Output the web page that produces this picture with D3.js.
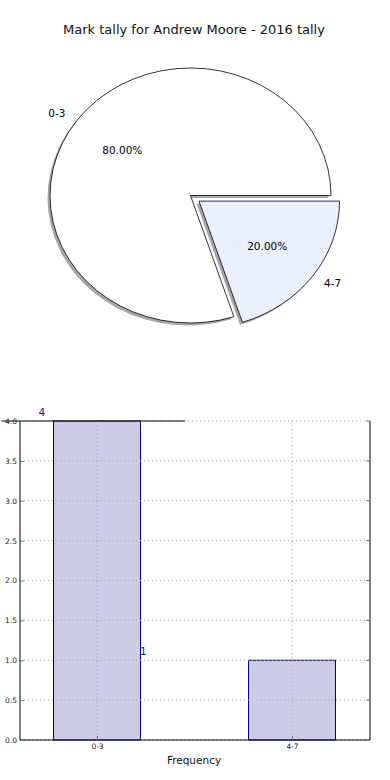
<!DOCTYPE html>
<html>
<head>
<meta charset="utf-8">
<script src="https://cdn.jsdelivr.net/npm/d3@7"></script>
<style>
  body { margin: 0; background: #fff; }
  svg text { font-family: "DejaVu Sans", sans-serif; }
</style>
</head>
<body>
<div id="chart"></div>
<script>
// data
const categories = ['0-3', '4-7'];
const counts = [4, 1];
const sliceColors = ['#ffffff', '#eaf0fb'];
const explode = [0, 0.075];
const yTicks = [0, 0.5, 1, 1.5, 2, 2.5, 3, 3.5, 4];

const title = 'Mark tally for Andrew Moore - 2016 tally';
const xLabel = 'Frequency';

const svg = d3.select('#chart')
    .append('svg')
    .attr('width', 390)
    .attr('height', 780);

svg.append('text')
    .attr('x', 194)
    .attr('y', 34)
    .attr('text-anchor', 'middle')
    .style('font-size', '13px')
    .style('fill', '#111')
    .text(title);

// ---- pie (ellipse, because the axes aren't square)
const cx = 190.5, cy = 195.5, rx = 140.5, ry = 127.5;
const total = d3.sum(counts);

const pie = d3.pie()
    .sort(null)
    .startAngle(Math.PI / 2)
    .endAngle(Math.PI / 2 - 2 * Math.PI);

const arcs = pie(counts);
const arc = d3.arc().innerRadius(0).outerRadius(1);

const pieG = svg.append('g')
    .attr('transform', `translate(${cx}, ${cy})`);

function offset(d, i) {
    const a = (d.startAngle + d.endAngle) / 2;
    return [Math.sin(a) * explode[i], -Math.cos(a) * explode[i]];
}

// shadows first
arcs.forEach((d, i) => {
    const [ox, oy] = offset(d, i);
    pieG.append('path')
        .attr('d', arc(d))
        .attr('transform', `translate(${ox * rx - 2.5}, ${oy * ry + 2.5}) scale(${rx}, ${ry})`)
        .style('fill', '#4d4d4d')
        .style('fill-opacity', 0.5)
        .style('stroke', 'none');
});

arcs.forEach((d, i) => {
    const [ox, oy] = offset(d, i);
    pieG.append('path')
        .attr('d', arc(d))
        .attr('transform', `translate(${ox * rx}, ${oy * ry}) scale(${rx}, ${ry})`)
        .attr('vector-effect', 'non-scaling-stroke')
        .style('fill', sliceColors[i])
        .style('stroke', '#000')
        .style('stroke-width', '0.8px');
});

// labels + percentages
arcs.forEach((d, i) => {
    const a = (d.startAngle + d.endAngle) / 2;
    const [ox, oy] = offset(d, i);
    const ux = Math.sin(a), uy = -Math.cos(a);
    pieG.append('text')
        .attr('x', (ux * 1.1 + ox) * rx)
        .attr('y', (uy * 1.1 + oy) * ry)
        .attr('dy', '0.35em')
        .attr('text-anchor', ux < 0 ? 'end' : 'start')
        .style('font-size', '10.5px')
        .text(categories[i]);
    pieG.append('text')
        .attr('x', (ux * 0.6 + ox) * rx)
        .attr('y', (uy * 0.6 + oy) * ry)
        .attr('dy', '0.35em')
        .attr('text-anchor', 'middle')
        .style('font-size', '10.5px')
        .text((counts[i] / total * 100).toFixed(2) + '%');
});

// ---- bar chart
const pLeft = 20, pRight = 370, pTop = 421, pBottom = 740;

const xScale = d3.scaleLinear()
    .domain([-0.395, 1.4])
    .range([pLeft, pRight]);

const yScale = d3.scaleLinear()
    .domain([0, 4])
    .range([pBottom, pTop]);

const barW = 0.446;
const g = svg.append('g');

// bars
g.selectAll('.bar')
    .data(counts)
    .enter().append('rect')
    .attr('x', (d, i) => xScale(i - barW / 2))
    .attr('y', d => yScale(d))
    .attr('width', xScale(barW) - xScale(0))
    .attr('height', d => yScale(0) - yScale(d))
    .style('fill', 'rgb(204,204,230)')
    .style('stroke', '#00008b')
    .style('stroke-width', '1px');

// dotted grid, drawn on top of the bars
g.selectAll('.xgrid')
    .data(categories)
    .enter().append('line')
    .attr('x1', (d, i) => xScale(i)).attr('x2', (d, i) => xScale(i))
    .attr('y1', pTop).attr('y2', pBottom)
    .style('stroke', '#a8a8b0')
    .style('stroke-width', '1px')
    .style('stroke-dasharray', '1,3');
g.selectAll('.ygrid')
    .data(yTicks)
    .enter().append('line')
    .attr('x1', pLeft).attr('x2', pRight)
    .attr('y1', d => yScale(d)).attr('y2', d => yScale(d))
    .style('stroke', '#a8a8b0')
    .style('stroke-width', '1px')
    .style('stroke-dasharray', '1,3');

// spines: left, bottom, right and the stray top segment
g.append('line').attr('x1', pLeft).attr('x2', pLeft).attr('y1', pTop).attr('y2', pBottom)
    .style('stroke', '#000');
g.append('line').attr('x1', pLeft).attr('x2', pRight).attr('y1', pBottom).attr('y2', pBottom)
    .style('stroke', '#000');
g.append('line').attr('x1', pRight).attr('x2', pRight).attr('y1', pTop).attr('y2', pBottom)
    .style('stroke', '#000');
g.append('line')
    .attr('x1', xScale(-0.49)).attr('x2', xScale(0.45))
    .attr('y1', yScale(4)).attr('y2', yScale(4))
    .style('stroke', '#000');

// axes
const yAxis = d3.axisLeft(yScale)
    .tickValues(yTicks)
    .tickFormat(d3.format('.1f'))
    .tickSize(-4)
    .tickPadding(3);

g.append('g')
    .attr('transform', `translate(${pLeft}, 0)`)
    .call(yAxis);

const xAxis = d3.axisBottom(xScale)
    .tickValues([0, 1])
    .tickFormat((d, i) => categories[i])
    .tickSize(-4)
    .tickPadding(4);

g.append('g')
    .attr('transform', `translate(0, ${pBottom})`)
    .call(xAxis);

g.selectAll('.domain').style('display', 'none');
g.selectAll('.tick line').style('stroke', '#777');
g.selectAll('.tick text')
    .style('font-size', '7.5px')
    .style('font-family', '"DejaVu Sans", sans-serif')
    .style('fill', '#222');

// right-side ticks
g.selectAll('.rtick')
    .data(yTicks)
    .enter().append('line')
    .attr('x1', pRight - 4).attr('x2', pRight)
    .attr('y1', d => yScale(d)).attr('y2', d => yScale(d))
    .style('stroke', '#777');

// value annotations
g.selectAll('.val')
    .data(counts)
    .enter().append('text')
    .attr('x', (d, i) => xScale(i * 0.52 - 0.3))
    .attr('y', d => yScale(d + 0.06))
    .style('font-size', '10.5px')
    .style('fill', '#1a1a8c')
    .text(d => d);

svg.append('text')
    .attr('x', 194)
    .attr('y', 764)
    .attr('text-anchor', 'middle')
    .style('font-size', '10.5px')
    .style('fill', '#111')
    .text(xLabel);
</script>
</body>
</html>
